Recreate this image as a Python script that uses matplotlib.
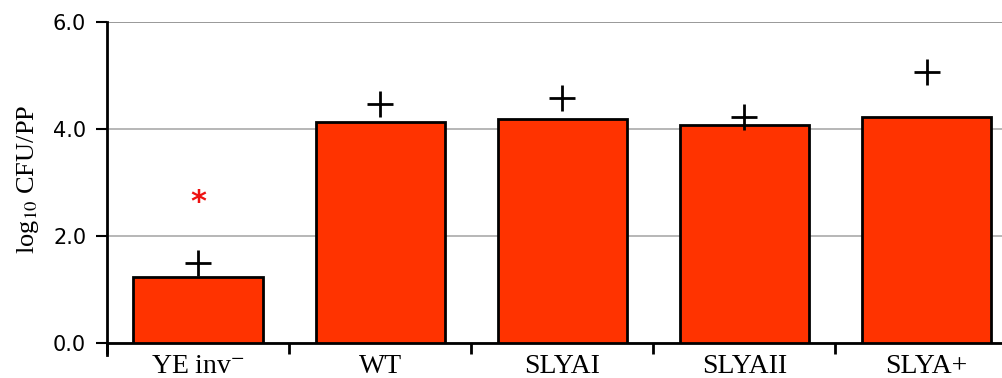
import matplotlib.pyplot as plt
import numpy as np

plt.rcParams['mathtext.fontset'] = 'stix'

# data
strains = ['YE inv$^{-}$', 'WT', 'SLYAI', 'SLYAII', 'SLYA+']
log_cfu = [1.23, 4.13, 4.19, 4.07, 4.22]
upper = [1.50, 4.47, 4.58, 4.22, 5.07]
star_x = 0
star_y = 2.62

fig = plt.figure(figsize=(10.03, 3.78), dpi=100)
ax = fig.add_axes([0.1067, 0.0926, 0.8933, 0.8492])

x = np.arange(len(strains))
ax.bar(x, log_cfu, width=0.71, color='#FF3300', edgecolor='black', linewidth=2, zorder=3)
ax.plot(x, upper, linestyle='none', marker='+', markersize=19, markeredgewidth=2,
        color='black', zorder=4)
ax.text(star_x, star_y, '*', color='#EE1111', fontsize=22, fontweight='bold',
        ha='center', va='center', zorder=4)

# tick marks between groups, labels at the centres
ax.set_xticks(np.arange(-0.5, 5, 1))
ax.set_xticklabels([])
ax.set_xticks(x, minor=True)
ax.set_xticklabels(strains, minor=True, fontsize=20, family='Liberation Serif')
ax.tick_params(axis='x', which='major', length=8, width=2, direction='out')
ax.tick_params(axis='x', which='minor', length=0, pad=8)

ax.set_yticks([0, 2, 4, 6])
ax.set_yticklabels(['0.0', '2.0', '4.0', '6.0'])
ax.tick_params(axis='y', length=8, width=1.5, pad=7, labelsize=15)
for t in ax.get_yticklabels():
    t.set_family('DejaVu Sans')
ax.yaxis.grid(True, color='#aaaaaa', linewidth=1.2, zorder=0)
ax.get_ygridlines()[-1].set_color('#888888')

ax.set_xlim(-0.5, 4.42)
ax.set_ylim(0, 6)

ax.spines['top'].set_visible(False)
ax.spines['right'].set_visible(False)
ax.spines['left'].set_linewidth(2)
ax.spines['bottom'].set_linewidth(2)
ax.spines['left'].set_bounds(-0.22, 6)

ax.set_ylabel('log$_{10}$ CFU/PP', fontsize=19, family='Liberation Serif')
ax.yaxis.set_label_coords(-0.074, 0.51)

plt.savefig('out.png', dpi=100)
